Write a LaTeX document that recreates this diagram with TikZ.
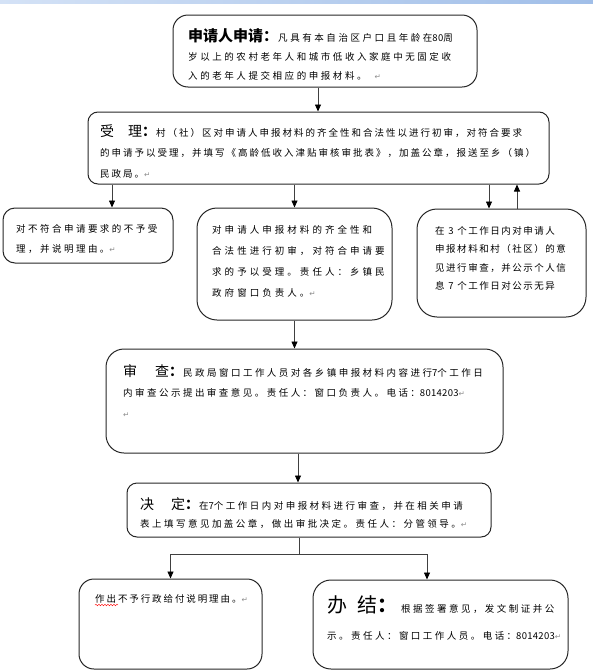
\documentclass[tikz,border=0pt]{standalone}
\usepackage{fontspec}
\usetikzlibrary{arrows.meta,decorations.pathmorphing}
\newfontfamily\cjk{Noto Sans CJK SC}
\newfontfamily\cjkhead{Noto Sans CJK SC}
\newfontfamily\symfont{DejaVu Sans}
\definecolor{BarBlue}{RGB}{160,190,232}
\definecolor{BarLight}{RGB}{212,226,246}
\newcommand\retmark{{\symfont\fontsize{7.5}{7.5}\selectfont\color{black!45}↵}}
\newcommand\digs[1]{{\addfontfeature{LetterSpace=3}#1}}

\begin{document}
\begin{tikzpicture}[x=1pt,y=-1pt,
box/.style={draw=black!85,line width=1pt,inner sep=0pt},
txt/.style n args={2}{anchor=base west,align=left,inner sep=0pt,
  font=\cjk\addfontfeature{LetterSpace=#1}\fontsize{9.5}{#2}\selectfont},
arrow/.style={-{Triangle[length=7pt,width=6pt,color=black]},line width=0.8pt,draw=black!75}]
\useasboundingbox (0,0) rectangle (593,672);
\fill[left color=BarLight,right color=BarBlue] (0,0) rectangle (593,3);
% boxes
\node[box,rounded corners=15pt,minimum width=304pt,minimum height=72pt] (apply) at (325,51) {};
\node[box,rounded corners=10pt,minimum width=461pt,minimum height=72pt] (accept) at (318.5,148) {};
\node[box,rounded corners=12pt,minimum width=170pt,minimum height=55pt] (refuse) at (88,235.5) {};
\node[box,rounded corners=20pt,minimum width=195pt,minimum height=112pt] (check) at (294.5,264) {};
\node[box,rounded corners=20pt,minimum width=169pt,minimum height=108pt] (publicize) at (501.5,263) {};
\node[box,rounded corners=18pt,minimum width=397pt,minimum height=104pt] (review) at (304.5,401) {};
\node[box,rounded corners=10pt,minimum width=364pt,minimum height=54pt] (decide) at (309,510) {};
\node[box,rounded corners=15pt,minimum width=183pt,minimum height=90pt] (deny) at (170.5,624) {};
\node[box,rounded corners=18pt,minimum width=255pt,minimum height=89pt] (finish) at (440.5,624.5) {};
% texts (placed at the baseline of their last line)
\node[txt={27}{19}] (applytxt) at (188,79.5) {{\cjkhead\bfseries\fontsize{15}{15}\selectfont 申请人申请：}凡具有本自治区户口且年龄在\digs{80}周\\岁以上的农村老年人和城市低收入家庭中无固定收\\入的老年人提交相应的申报材料。\hspace{8pt}\retmark};
\node[txt={21}{20.5}] (accepttxt) at (100,177) {{\cjkhead\fontsize{14}{14}\selectfont 受\hspace{14pt}理\textbf{：}}村（社）区对申请人申报材料的齐全性和合法性以进行初审，对符合要求\\的申请予以受理，并填写《高龄低收入津贴审核审批表》，加盖公章，报送至乡（镇）\\民政局。\retmark};
\node[txt={26}{20}] (refusetxt) at (16,252) {对不符合申请要求的不予受\\理，并说明理由。\retmark};
\node[txt={32}{20.7}] (checktxt) at (212,296) {对申请人申报材料的齐全性和\\合法性进行初审，对符合申请要\\求的予以受理。责任人：乡镇民\\政府窗口负责人。\retmark};
\node[txt={16}{18.5}] (publicizetxt) at (435,289.5) {在 \digs{3} 个工作日内对申请人\\申报材料和村（社区）的意\\见进行审查，并公示个人信\\息 \digs{7} 个工作日对公示无异};
\node[txt={26}{20.5}] (reviewtxt) at (123,417) {{\cjkhead\fontsize{14}{14}\selectfont 审\hspace{18pt}查\textbf{：}}民政局窗口工作人员对各乡镇申报材料内容进行\digs{7}个工作日\\内审查公示提出审查意见。责任人：窗口负责人。电话：\digs{8014203}\retmark\\\retmark};
\node[txt={26}{18}] (decidetxt) at (140,527) {{\cjkhead\fontsize{14}{14}\selectfont 决\hspace{17pt}定\textbf{：}}在\digs{7}个工作日内对申报材料进行审查，并在相关申请\\表上填写意见加盖公章，做出审批决定。责任人：分管领导。\retmark};
\node[txt={20}{20}] (denytxt) at (95,602) {作出不予行政给付说明理由。\retmark};
\node[txt={26}{27}] (finishtxt) at (327,639) {{\cjkhead\fontsize{20}{20}\selectfont 办\hspace{10pt}结\textbf{：}}\hspace{4pt}根据签署意见，发文制证并公\\示。责任人：窗口工作人员。电话：\digs{8014203}\retmark};
\draw[red,decorate,decoration={snake,amplitude=0.8pt,segment length=3pt}]
  ([yshift=-3pt]denytxt.base west) -- ++(23,0);
% arrows
\draw[arrow] ([xshift=-7pt]apply.south) -- ([xshift=-7pt]apply.south |- accept.north);
\draw[arrow] ([xshift=24pt]refuse.north |- accept.south) -- ([xshift=24pt]refuse.north);
\draw[arrow] (check.north |- accept.south) -- (check.north);
\draw[arrow] ([xshift=-12.5pt]publicize.north |- accept.south) -- ([xshift=-12.5pt]publicize.north);
\draw[arrow] ([xshift=15.5pt]publicize.north) -- ([xshift=15.5pt]publicize.north |- accept.south);
\draw[arrow] (check.south) -- (check.south |- review.north);
\draw[arrow] ([xshift=-6.5pt]review.south) -- ([xshift=-6.5pt]review.south |- decide.north);
\draw[arrow] ([xshift=-10pt]decide.south) -- ++(0,17) -| (deny.north);
\draw[arrow] ([xshift=-10pt]decide.south) -- ++(0,17) -| ([xshift=-13.5pt]finish.north);
\end{tikzpicture}
\end{document}
